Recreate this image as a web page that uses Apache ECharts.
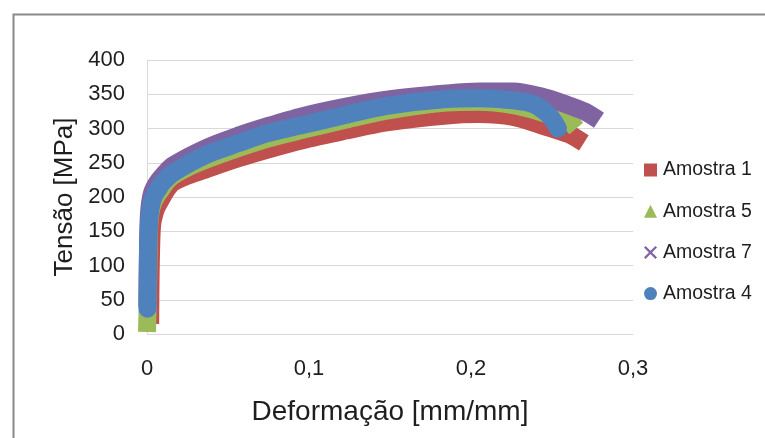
<!DOCTYPE html>
<html>
<head>
<meta charset="utf-8">
<script src="https://cdn.jsdelivr.net/npm/echarts@6/dist/echarts.min.js"></script>
<style>
html,body{margin:0;padding:0;background:#fff;}
#c{width:765px;height:438px;}
</style>
</head>
<body>
<div id="c"></div>
<script>
// ---- data ----
var seriesNames = ['Amostra 1', 'Amostra 5', 'Amostra 7', 'Amostra 4'];

var a1X = [0.002, 0.0022, 0.0026, 0.0032, 0.0045, 0.006, 0.009, 0.012, 0.016, 0.025, 0.037, 0.057, 0.074, 0.096, 0.123, 0.148, 0.185, 0.205, 0.226, 0.243, 0.255, 0.262, 0.265];
var a1Y = [28, 80, 130, 160, 175, 185, 198, 210, 221, 231, 241, 257, 269, 283, 297, 309, 319, 321, 317, 305, 296, 290, 286];

var a5X = [0.0, 0.0004, 0.0008, 0.0012, 0.002, 0.0035, 0.006, 0.009, 0.012, 0.016, 0.025, 0.037, 0.057, 0.074, 0.096, 0.123, 0.148, 0.185, 0.205, 0.226, 0.243, 0.256, 0.262, 0.265];
var a5Y = [3, 40, 100, 150, 175, 190, 202, 212, 222, 231, 243, 255, 272, 285, 298, 313, 326, 338, 339, 334, 324, 313, 307, 300];

var a7X = [0.0002, 0.0006, 0.0012, 0.003, 0.006, 0.010, 0.016, 0.037, 0.057, 0.074, 0.096, 0.123, 0.148, 0.185, 0.205, 0.226, 0.243, 0.259, 0.270, 0.279];
var a7Y = [40, 120, 175, 205, 220, 232, 246, 272, 290, 303, 318, 332, 342, 351, 354, 354, 347, 335, 325, 312];

var a4X = [0.0003, 0.0005, 0.001, 0.002, 0.004, 0.007, 0.010, 0.016, 0.037, 0.057, 0.074, 0.096, 0.123, 0.148, 0.185, 0.205, 0.226, 0.238, 0.245, 0.250, 0.2537];
var a4Y = [37, 100, 150, 180, 200, 212, 222, 235, 262, 279, 293, 305, 320, 333, 343, 344, 341, 336, 326, 314, 300];

var xTicks = ['0', '0,1', '0,2', '0,3'];
var yTitle = 'Tensão [MPa]';
var xTitle = 'Deformação [mm/mm]';
// ---------------------------------------

function pairs(xs, ys) { return xs.map(function (x, i) { return [x, ys[i]]; }); }

var colors = ['#C0504D', '#9BBB59', '#8064A2', '#4F81BD'];
var caps = ['square', 'butt', 'butt', 'round'];
var dataSets = [pairs(a1X, a1Y), pairs(a5X, a5Y), pairs(a7X, a7Y), pairs(a4X, a4Y)];
var icons = ['rect', 'triangle',
  'path://M0,1.2L1.2,0L5,3.8L8.8,0L10,1.2L6.2,5L10,8.8L8.8,10L5,6.2L1.2,10L0,8.8L3.8,5Z',
  'circle'];

var FONT = 'Liberation Sans';
var TXT = '#1e1e1e';

var chart = echarts.init(document.getElementById('c'), null, {renderer: 'canvas'});
chart.setOption({
  animation: false,
  backgroundColor: '#fff',
  graphic: [{
    type: 'rect', left: 11, top: 12, z: 100, silent: true,
    shape: {x: 0, y: 0, width: 800, height: 500},
    style: {fill: 'none', stroke: '#8a8a8a', lineWidth: 2}
  }],
  grid: {left: 147, top: 60, width: 486, height: 274, containLabel: false},
  legend: {
    orient: 'vertical', left: 639, top: 155,
    itemWidth: 13, itemHeight: 13, itemGap: 21.2,
    textStyle: {fontFamily: FONT, fontSize: 19.5, color: TXT, lineHeight: 20, padding: [0, 0, 0, 1]},
    data: seriesNames.map(function (n, i) { return {name: n, icon: icons[i]}; })
  },
  xAxis: {
    type: 'value', min: 0, max: 0.3, interval: 0.1,
    name: xTitle, nameLocation: 'middle', nameGap: 64,
    nameTextStyle: {fontFamily: FONT, fontSize: 28, color: TXT},
    axisLine: {show: false},
    axisTick: {show: false},
    splitLine: {show: false},
    axisLabel: {
      margin: 24, fontFamily: FONT, fontSize: 22, color: TXT,
      formatter: function (v) { return xTicks[Math.round(v / 0.1)]; }
    }
  },
  yAxis: {
    type: 'value', min: 0, max: 400, interval: 50,
    name: yTitle, nameLocation: 'middle', nameGap: 66,
    nameTextStyle: {fontFamily: FONT, fontSize: 26, color: TXT},
    axisLine: {show: true, lineStyle: {color: '#D9D9D9', width: 1}},
    axisTick: {show: false},
    splitLine: {show: true, lineStyle: {color: '#D9D9D9', width: 1}},
    axisLabel: {margin: 22, fontFamily: FONT, fontSize: 22, color: TXT}
  },
  series: seriesNames.map(function (n, i) {
    return {
      name: n, type: 'line', data: dataSets[i],
      showSymbol: false, symbol: 'none', smooth: 0.3, clip: false,
      color: colors[i],
      lineStyle: {color: colors[i], width: 18, cap: caps[i], join: 'round'}
    };
  })
});
</script>
</body>
</html>
